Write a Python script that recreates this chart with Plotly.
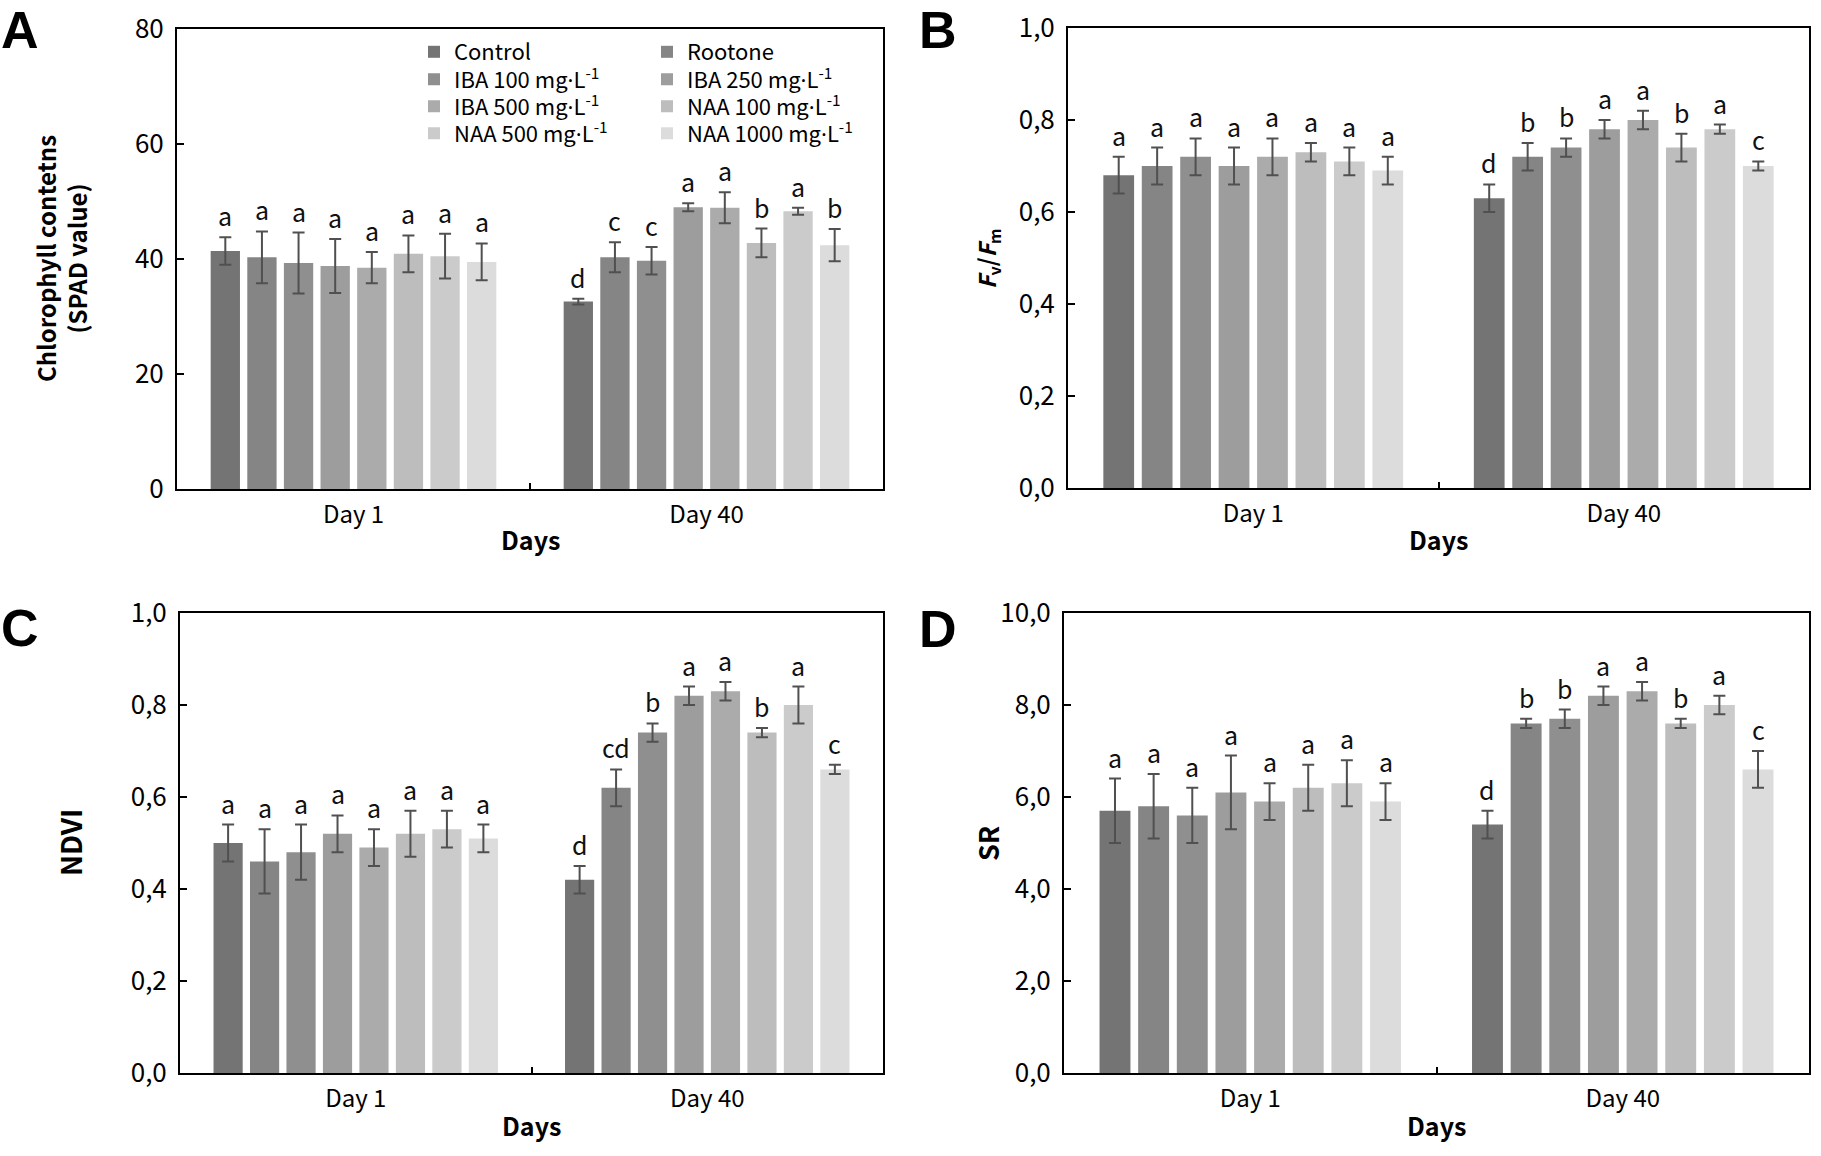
import plotly.graph_objects as go

W, H = 1821, 1156
FONT = "Noto Sans CJK KR, Noto Sans, sans-serif"
LETTER_FONT = "Liberation Sans, Arial, sans-serif"


def fx(px):
    return px / W


def fy(py):
    return 1 - py / H


DOT = "<span style='font-family:Noto Sans'>·</span>"

# ---------------- data ----------------
days = ["Day 1", "Day 40"]
treatments = ["Control", "Rootone",
              "IBA 100 mg" + DOT + "L<sup>-1</sup>", "IBA 250 mg" + DOT + "L<sup>-1</sup>",
              "IBA 500 mg" + DOT + "L<sup>-1</sup>", "NAA 100 mg" + DOT + "L<sup>-1</sup>",
              "NAA 500 mg" + DOT + "L<sup>-1</sup>", "NAA 1000 mg" + DOT + "L<sup>-1</sup>"]
colors = ["#747474", "#858585", "#8f8f8f", "#9d9d9d",
          "#ababab", "#bdbdbd", "#cbcbcb", "#dcdcdc"]

# A: chlorophyll (SPAD)
spad_d1 = [41.4, 40.3, 39.3, 38.8, 38.5, 40.9, 40.5, 39.5]
spad_d1_err = [2.4, 4.5, 5.3, 4.7, 2.7, 3.2, 3.9, 3.2]
spad_d40 = [32.6, 40.3, 39.7, 49.0, 48.9, 42.8, 48.3, 42.4]
spad_d40_err = [0.5, 2.6, 2.4, 0.7, 2.7, 2.5, 0.6, 2.8]
spad_let_d1 = ["a", "a", "a", "a", "a", "a", "a", "a"]
spad_let_d40 = ["d", "c", "c", "a", "a", "b", "a", "b"]

# B: Fv/Fm
fvfm_d1 = [0.68, 0.70, 0.72, 0.70, 0.72, 0.73, 0.71, 0.69]
fvfm_d1_err = [0.04, 0.04, 0.04, 0.04, 0.04, 0.02, 0.03, 0.03]
fvfm_d40 = [0.63, 0.72, 0.74, 0.78, 0.80, 0.74, 0.78, 0.70]
fvfm_d40_err = [0.03, 0.03, 0.02, 0.02, 0.02, 0.03, 0.01, 0.01]
fvfm_let_d1 = ["a", "a", "a", "a", "a", "a", "a", "a"]
fvfm_let_d40 = ["d", "b", "b", "a", "a", "b", "a", "c"]

# C: NDVI
ndvi_d1 = [0.50, 0.46, 0.48, 0.52, 0.49, 0.52, 0.53, 0.51]
ndvi_d1_err = [0.04, 0.07, 0.06, 0.04, 0.04, 0.05, 0.04, 0.03]
ndvi_d40 = [0.42, 0.62, 0.74, 0.82, 0.83, 0.74, 0.80, 0.66]
ndvi_d40_err = [0.03, 0.04, 0.02, 0.02, 0.02, 0.01, 0.04, 0.01]
ndvi_let_d1 = ["a", "a", "a", "a", "a", "a", "a", "a"]
ndvi_let_d40 = ["d", "cd", "b", "a", "a", "b", "a", "c"]

# D: SR
sr_d1 = [5.7, 5.8, 5.6, 6.1, 5.9, 6.2, 6.3, 5.9]
sr_d1_err = [0.7, 0.7, 0.6, 0.8, 0.4, 0.5, 0.5, 0.4]
sr_d40 = [5.4, 7.6, 7.7, 8.2, 8.3, 7.6, 8.0, 6.6]
sr_d40_err = [0.3, 0.1, 0.2, 0.2, 0.2, 0.1, 0.2, 0.4]
sr_let_d1 = ["a", "a", "a", "a", "a", "a", "a", "a"]
sr_let_d40 = ["d", "b", "b", "a", "a", "b", "a", "c"]

# y-axis ticks
spad_ticks = [0, 20, 40, 60, 80]
spad_ticktext = ["0", "20", "40", "60", "80"]
unit_ticks = [0, 0.2, 0.4, 0.6, 0.8, 1.0]
unit_ticktext = ["0,0", "0,2", "0,4", "0,6", "0,8", "1,0"]
sr_ticks = [0, 2, 4, 6, 8, 10]
sr_ticktext = ["0,0", "2,0", "4,0", "6,0", "8,0", "10,0"]

panels = [
    dict(letter="A", d1=spad_d1, e1=spad_d1_err, d40=spad_d40, e40=spad_d40_err,
         l1=spad_let_d1, l40=spad_let_d40, rng=[0, 80], tv=spad_ticks, tt=spad_ticktext,
         title="<b>Chlorophyll contetns<br>(SPAD value)</b>", tsize=24,
         box=(177, 883, 29, 489), title_x=61,
         lab=dict(x=0, y=0, xanchor="left", yanchor="top"), days_dy=50),
    dict(letter="B", d1=fvfm_d1, e1=fvfm_d1_err, d40=fvfm_d40, e40=fvfm_d40_err,
         l1=fvfm_let_d1, l40=fvfm_let_d40, rng=[0, 1.0], tv=unit_ticks, tt=unit_ticktext,
         title="<b><i>F</i><sub>v</sub>/<i>F</i><sub>m</sub></b>", tsize=23,
         box=(1068, 1809, 28, 488), title_x=987,
         lab=dict(x=938, y=0, xanchor="center", yanchor="top"), days_dy=51),
    dict(letter="C", d1=ndvi_d1, e1=ndvi_d1_err, d40=ndvi_d40, e40=ndvi_d40_err,
         l1=ndvi_let_d1, l40=ndvi_let_d40, rng=[0, 1.0], tv=unit_ticks, tt=unit_ticktext,
         title="<b>NDVI</b>", tsize=28,
         box=(180, 883, 613, 1073), title_x=70,
         lab=dict(x=0, y=628, xanchor="left", yanchor="middle"), days_dy=52),
    dict(letter="D", d1=sr_d1, e1=sr_d1_err, d40=sr_d40, e40=sr_d40_err,
         l1=sr_let_d1, l40=sr_let_d40, rng=[0, 10], tv=sr_ticks, tt=sr_ticktext,
         title="<b>SR</b>", tsize=27,
         box=(1064, 1809, 613, 1073), title_x=987,
         lab=dict(x=938, y=629, xanchor="center", yanchor="middle"), days_dy=52),
]

BARGAP = 0.17
BARGROUPGAP = 0.2
n = len(treatments)
legend_names = ["legend"] + ["legend%d" % k for k in range(2, n + 1)]

fig = go.Figure()
annotations = []
layout_axes = {}

for p, pn in enumerate(panels):
    suffix = "" if p == 0 else str(p + 1)
    xa, ya = "x" + suffix, "y" + suffix
    for i in range(n):
        fig.add_trace(go.Bar(
            x=days, y=[pn["d1"][i], pn["d40"][i]],
            error_y=dict(type="data", array=[pn["e1"][i], pn["e40"][i]],
                         color="#505050", thickness=2, width=6),
            marker=dict(color=colors[i], line=dict(width=0)),
            name=treatments[i], xaxis=xa, yaxis=ya,
            showlegend=(p == 0),
            legend=legend_names[i],
        ))
    # significance letters above the error bars
    grp = 1 - BARGAP
    pitch = grp / n
    for g, (vals, errs, lets) in enumerate([(pn["d1"], pn["e1"], pn["l1"]),
                                            (pn["d40"], pn["e40"], pn["l40"])]):
        for i in range(n):
            annotations.append(dict(
                x=g - grp / 2 + pitch * (i + 0.5), y=vals[i] + errs[i],
                xref=xa, yref=ya, text=lets[i], showarrow=False,
                yanchor="bottom", yshift=2,
                font=dict(family=FONT, size=25, color="#111111")))
    x0, x1, y0, y1 = pn["box"]
    layout_axes["xaxis" + suffix] = dict(
        domain=[fx(x0), fx(x1)], anchor=ya, type="category",
        categoryorder="array", categoryarray=days, range=[-0.5, 1.5],
        showline=True, mirror=True, linecolor="black", linewidth=2,
        ticks="inside", tickson="boundaries", ticklen=6, tickwidth=1.5, tickcolor="black",
        showgrid=False, zeroline=False, ticklabelstandoff=3,
        ticklabeloverflow="allow",
        tickfont=dict(family=FONT, size=24, color="black"))
    layout_axes["yaxis" + suffix] = dict(
        domain=[fy(y1), fy(y0)], anchor=xa, range=pn["rng"],
        tickvals=pn["tv"], ticktext=pn["tt"],
        showline=True, mirror=True, linecolor="black", linewidth=2,
        ticks="inside", ticklen=7, tickwidth=2, tickcolor="black",
        showgrid=False, zeroline=False, ticklabelstandoff=6,
        ticklabeloverflow="allow",
        tickfont=dict(family=FONT, size=26, color="black"))
    # y-axis title
    annotations.append(dict(
        x=fx(pn["title_x"]), y=fy((y0 + y1) / 2), xref="paper", yref="paper",
        text=pn["title"], textangle=-90, showarrow=False,
        xanchor="center", yanchor="middle",
        font=dict(family=FONT, size=pn["tsize"], color="black")))
    # x-axis title
    annotations.append(dict(
        x=fx((x0 + x1) / 2), y=fy(y1 + pn["days_dy"]), xref="paper", yref="paper",
        text="<b>Days</b>", showarrow=False, xanchor="center", yanchor="middle",
        font=dict(family=FONT, size=25, color="black")))
    # panel letter
    lab = pn["lab"]
    annotations.append(dict(
        x=fx(lab["x"]), y=fy(lab["y"]), xref="paper", yref="paper",
        text="<b>" + pn["letter"] + "</b>", showarrow=False,
        xanchor=lab["xanchor"], yanchor=lab["yanchor"], borderpad=0,
        font=dict(family=LETTER_FONT, size=52, color="black")))

# legend: two columns x four rows inside panel A, one legend box per entry
legend_col_x = [414, 647]
legend_row_y = [52, 79.5, 106.5, 133.5]
legends = {}
for i, lname in enumerate(legend_names):
    legends[lname] = dict(
        x=fx(legend_col_x[i % 2]), y=fy(legend_row_y[i // 2]),
        xanchor="left", yanchor="middle", bgcolor="rgba(0,0,0,0)",
        font=dict(family=FONT, size=22, color="black"),
        itemwidth=30, orientation="v")

fig.update_layout(
    width=W, height=H,
    margin=dict(l=0, r=0, t=0, b=0, pad=0, autoexpand=False),
    paper_bgcolor="white", plot_bgcolor="white",
    barmode="group", bargap=BARGAP, bargroupgap=BARGROUPGAP,
    font=dict(family=FONT, color="black"),
    annotations=annotations,
    **legends,
    **layout_axes,
)

fig.write_html("out.html",
               config={"displayModeBar": False},
               post_script="document.body.style.margin='0px';"
                           "document.body.style.padding='0px';")
